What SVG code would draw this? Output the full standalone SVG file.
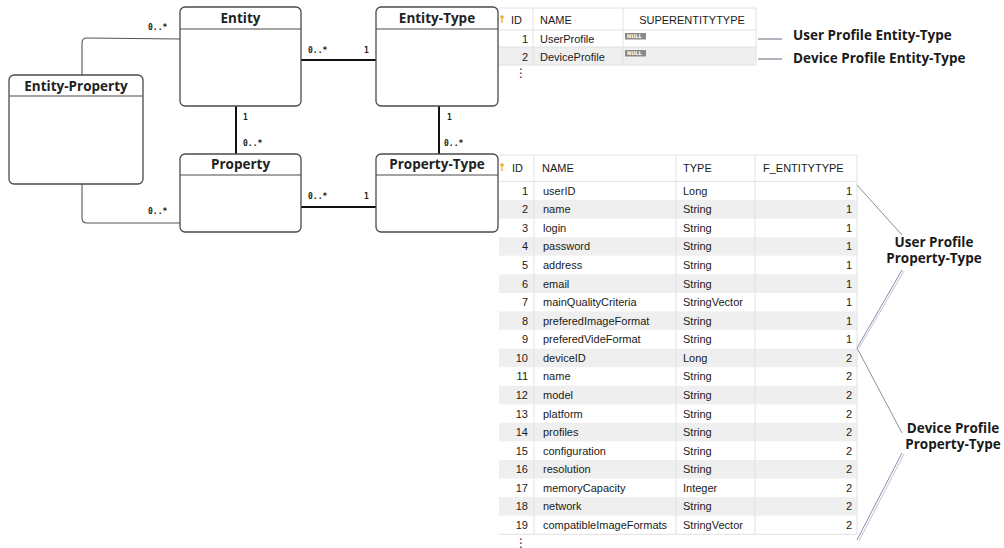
<svg xmlns="http://www.w3.org/2000/svg" width="1004" height="548" viewBox="0 0 1004 548">
  <style>
    .box { fill: #ffffff; stroke: #4a4a4a; stroke-width: 1.3; }
    .sep { stroke: #4a4a4a; stroke-width: 1.1; }
    .title { font-family: "Open Sans", "Noto Sans", sans-serif; font-weight: bold; font-size: 13.5px; fill: #222; text-anchor: middle; }
    .card { font-family: "DejaVu Sans Mono", "Liberation Mono", monospace; font-weight: bold; font-size: 8px; fill: #222; }
    .assoc { fill: none; stroke: #111; stroke-width: 2; }
    .link { fill: none; stroke: #555; stroke-width: 1.1; }
    .cell { font-family: "Liberation Sans", Arial, sans-serif; font-size: 11px; fill: #1a1a1a; }
    .num { text-anchor: end; }
    .shade { fill: #efefef; }
    .grid { stroke: #e2e2e2; stroke-width: 1; }
    .label { font-family: "Open Sans", "Noto Sans", sans-serif; font-weight: bold; font-size: 13.5px; fill: #1a1a1a; }
    .mid { text-anchor: middle; }
    .pointer { fill: none; stroke: #9a9aa8; stroke-width: 1.5; }
    .brace { fill: none; stroke: #8c8ca8; stroke-width: 1; }
    .brace2 { fill: none; stroke: #c4c4d2; stroke-width: 1; }
    .nullbg { fill: #8a8a8a; }
    .nulltx { font-family: "DejaVu Sans", sans-serif; font-size: 5px; font-weight: bold; fill: #fff; }
    .dots { font-family: "DejaVu Sans", sans-serif; font-size: 12px; fill: #222; text-anchor: middle; }
  </style>
  <defs>
    <g id="key">
      <circle cx="0" cy="0" r="1.8" fill="#e6b422"/>
      <path d="M0,1.5 V6" stroke="#e6b422" stroke-width="1.3"/>
    </g>
  </defs>

  <rect width="1004" height="548" fill="#ffffff"/>

  <!-- associations between classes -->
  <g id="connectors">
    <path class="link" d="M82,75 V43 Q82,38 87,38 L180,39"/>
    <path class="link" d="M82,184 V218 Q82,223 87,223 L180,223"/>
    <path class="assoc" d="M301,60 H376"/>
    <path class="assoc" d="M236,106 V154"/>
    <path class="assoc" d="M439,106 V154"/>
    <path class="assoc" d="M301,207 H376"/>
    <text class="card" x="148" y="30">0..*</text>
    <text class="card" x="148" y="214">0..*</text>
    <text class="card" x="308" y="53">0..*</text>
    <text class="card" x="364" y="53">1</text>
    <text class="card" x="243" y="120">1</text>
    <text class="card" x="243" y="146">0..*</text>
    <text class="card" x="447" y="120">1</text>
    <text class="card" x="444" y="146">0..*</text>
    <text class="card" x="308" y="199">0..*</text>
    <text class="card" x="364" y="199">1</text>
  </g>

  <!-- classes -->
  <g id="entity">
    <rect class="box" x="180" y="7" width="121" height="99" rx="5"/>
    <line class="sep" x1="180" y1="29" x2="301" y2="29"/>
    <text class="title" x="240.5" y="23">Entity</text>
  </g>
  <g id="entity-type">
    <rect class="box" x="376" y="7" width="122" height="99" rx="5"/>
    <line class="sep" x1="376" y1="29" x2="498" y2="29"/>
    <text class="title" x="437" y="23">Entity-Type</text>
  </g>
  <g id="entity-property">
    <rect class="box" x="9" y="75" width="134" height="109" rx="5"/>
    <line class="sep" x1="9" y1="96" x2="143" y2="96"/>
    <text class="title" x="76" y="91">Entity-Property</text>
  </g>
  <g id="property">
    <rect class="box" x="180" y="154" width="121" height="78" rx="5"/>
    <line class="sep" x1="180" y1="175" x2="301" y2="175"/>
    <text class="title" x="240.5" y="169">Property</text>
  </g>
  <g id="property-type">
    <rect class="box" x="376" y="154" width="122" height="78" rx="5"/>
    <line class="sep" x1="376" y1="175" x2="498" y2="175"/>
    <text class="title" x="437" y="169">Property-Type</text>
  </g>

  <!-- ENTITYTYPE table -->
  <g id="entitytype-table">
    <rect class="shade" x="499" y="47" width="257" height="18"/>
    <line class="grid" x1="499" y1="8" x2="756" y2="8"/>
    <line class="grid" x1="499" y1="30" x2="756" y2="30"/>
    <line class="grid" x1="499" y1="47" x2="756" y2="47"/>
    <line class="grid" x1="499" y1="65" x2="756" y2="65"/>
    <line class="grid" x1="533" y1="8" x2="533" y2="65"/>
    <line class="grid" x1="623" y1="8" x2="623" y2="65"/>
    <line class="grid" x1="756" y1="8" x2="756" y2="65"/>
    <use href="#key" x="502" y="17"/>
    <text class="cell" x="511" y="24">ID</text>
    <text class="cell" x="540" y="24">NAME</text>
    <text class="cell mid" x="692" y="24">SUPERENTITYTYPE</text>
    <text class="cell num" x="528" y="43">1</text>
    <text class="cell" x="540" y="43">UserProfile</text>
    <rect class="nullbg" x="625" y="33" width="21" height="6.5"/>
    <text class="nulltx" x="627" y="38.2">NULL</text>
    <text class="cell num" x="528" y="61">2</text>
    <text class="cell" x="540" y="61">DeviceProfile</text>
    <rect class="nullbg" x="625" y="50" width="21" height="6.5"/>
    <text class="nulltx" x="627" y="55.2">NULL</text>
    <text class="dots" x="521" y="77">⋮</text>
  </g>

  <!-- pointers to the entity-type rows -->
  <g id="entitytype-labels">
    <path class="pointer" d="M758,39 H782"/>
    <path class="pointer" d="M758,59 H782"/>
    <text class="label" x="793" y="40">User Profile Entity-Type</text>
    <text class="label" x="793" y="63">Device Profile Entity-Type</text>
  </g>

  <!-- PROPERTYTYPE table -->
  <g id="propertytype-table">
    <rect class="shade" x="499" y="200" width="358" height="18.6"/>
    <rect class="shade" x="499" y="237.1" width="358" height="18.6"/>
    <rect class="shade" x="499" y="274.3" width="358" height="18.6"/>
    <rect class="shade" x="499" y="311.4" width="358" height="18.6"/>
    <rect class="shade" x="499" y="348.6" width="358" height="18.6"/>
    <rect class="shade" x="499" y="385.7" width="358" height="18.6"/>
    <rect class="shade" x="499" y="422.8" width="358" height="18.6"/>
    <rect class="shade" x="499" y="460" width="358" height="18.6"/>
    <rect class="shade" x="499" y="497.1" width="358" height="18.6"/>
    <line class="grid" x1="499" y1="155" x2="857" y2="155"/>
    <line class="grid" x1="499" y1="181.4" x2="857" y2="181.4"/>
    <line class="grid" x1="499" y1="534.3" x2="857" y2="534.3"/>
    <line class="grid" x1="534" y1="155" x2="534" y2="534.3"/>
    <line class="grid" x1="676" y1="155" x2="676" y2="534.3"/>
    <line class="grid" x1="755" y1="155" x2="755" y2="534.3"/>
    <line class="grid" x1="857" y1="155" x2="857" y2="534.3"/>
    <use href="#key" x="502" y="165"/>
    <text class="cell" x="512" y="172">ID</text>
    <text class="cell" x="542" y="172">NAME</text>
    <text class="cell" x="683" y="172">TYPE</text>
    <text class="cell" x="763" y="172">F_ENTITYTYPE</text>

    <text class="cell num" x="528" y="194.7">1</text><text class="cell" x="543" y="194.7">userID</text><text class="cell" x="683" y="194.7">Long</text><text class="cell num" x="852" y="194.7">1</text>
    <text class="cell num" x="528" y="213.3">2</text><text class="cell" x="543" y="213.3">name</text><text class="cell" x="683" y="213.3">String</text><text class="cell num" x="852" y="213.3">1</text>
    <text class="cell num" x="528" y="231.8">3</text><text class="cell" x="543" y="231.8">login</text><text class="cell" x="683" y="231.8">String</text><text class="cell num" x="852" y="231.8">1</text>
    <text class="cell num" x="528" y="250.4">4</text><text class="cell" x="543" y="250.4">password</text><text class="cell" x="683" y="250.4">String</text><text class="cell num" x="852" y="250.4">1</text>
    <text class="cell num" x="528" y="269">5</text><text class="cell" x="543" y="269">address</text><text class="cell" x="683" y="269">String</text><text class="cell num" x="852" y="269">1</text>
    <text class="cell num" x="528" y="287.6">6</text><text class="cell" x="543" y="287.6">email</text><text class="cell" x="683" y="287.6">String</text><text class="cell num" x="852" y="287.6">1</text>
    <text class="cell num" x="528" y="306.1">7</text><text class="cell" x="543" y="306.1">mainQualityCriteria</text><text class="cell" x="683" y="306.1">StringVector</text><text class="cell num" x="852" y="306.1">1</text>
    <text class="cell num" x="528" y="324.7">8</text><text class="cell" x="543" y="324.7">preferedImageFormat</text><text class="cell" x="683" y="324.7">String</text><text class="cell num" x="852" y="324.7">1</text>
    <text class="cell num" x="528" y="343.3">9</text><text class="cell" x="543" y="343.3">preferedVideFormat</text><text class="cell" x="683" y="343.3">String</text><text class="cell num" x="852" y="343.3">1</text>
    <text class="cell num" x="528" y="361.8">10</text><text class="cell" x="543" y="361.8">deviceID</text><text class="cell" x="683" y="361.8">Long</text><text class="cell num" x="852" y="361.8">2</text>
    <text class="cell num" x="528" y="380.4">11</text><text class="cell" x="543" y="380.4">name</text><text class="cell" x="683" y="380.4">String</text><text class="cell num" x="852" y="380.4">2</text>
    <text class="cell num" x="528" y="399">12</text><text class="cell" x="543" y="399">model</text><text class="cell" x="683" y="399">String</text><text class="cell num" x="852" y="399">2</text>
    <text class="cell num" x="528" y="417.5">13</text><text class="cell" x="543" y="417.5">platform</text><text class="cell" x="683" y="417.5">String</text><text class="cell num" x="852" y="417.5">2</text>
    <text class="cell num" x="528" y="436.1">14</text><text class="cell" x="543" y="436.1">profiles</text><text class="cell" x="683" y="436.1">String</text><text class="cell num" x="852" y="436.1">2</text>
    <text class="cell num" x="528" y="454.7">15</text><text class="cell" x="543" y="454.7">configuration</text><text class="cell" x="683" y="454.7">String</text><text class="cell num" x="852" y="454.7">2</text>
    <text class="cell num" x="528" y="473.3">16</text><text class="cell" x="543" y="473.3">resolution</text><text class="cell" x="683" y="473.3">String</text><text class="cell num" x="852" y="473.3">2</text>
    <text class="cell num" x="528" y="491.8">17</text><text class="cell" x="543" y="491.8">memoryCapacity</text><text class="cell" x="683" y="491.8">Integer</text><text class="cell num" x="852" y="491.8">2</text>
    <text class="cell num" x="528" y="510.4">18</text><text class="cell" x="543" y="510.4">network</text><text class="cell" x="683" y="510.4">String</text><text class="cell num" x="852" y="510.4">2</text>
    <text class="cell num" x="528" y="529">19</text><text class="cell" x="543" y="529">compatibleImageFormats</text><text class="cell" x="683" y="529">StringVector</text><text class="cell num" x="852" y="529">2</text>
    <text class="dots" x="521" y="547">⋮</text>
  </g>

  <!-- braces grouping the property-type rows -->
  <g id="propertytype-labels">
    <path class="brace" d="M857,185 L902,235"/>
    <path class="brace2" d="M904,271 L859,348"/>
    <path class="brace" d="M902,270 L857,348 L902,433"/>
    <path class="brace2" d="M904,454 L859,541"/>
    <path class="brace" d="M902,453 L857,540"/>
    <text class="label mid" x="934" y="247">User Profile</text>
    <text class="label mid" x="934" y="263">Property-Type</text>
    <text class="label mid" x="953" y="433">Device Profile</text>
    <text class="label mid" x="953" y="449">Property-Type</text>
  </g>
</svg>
